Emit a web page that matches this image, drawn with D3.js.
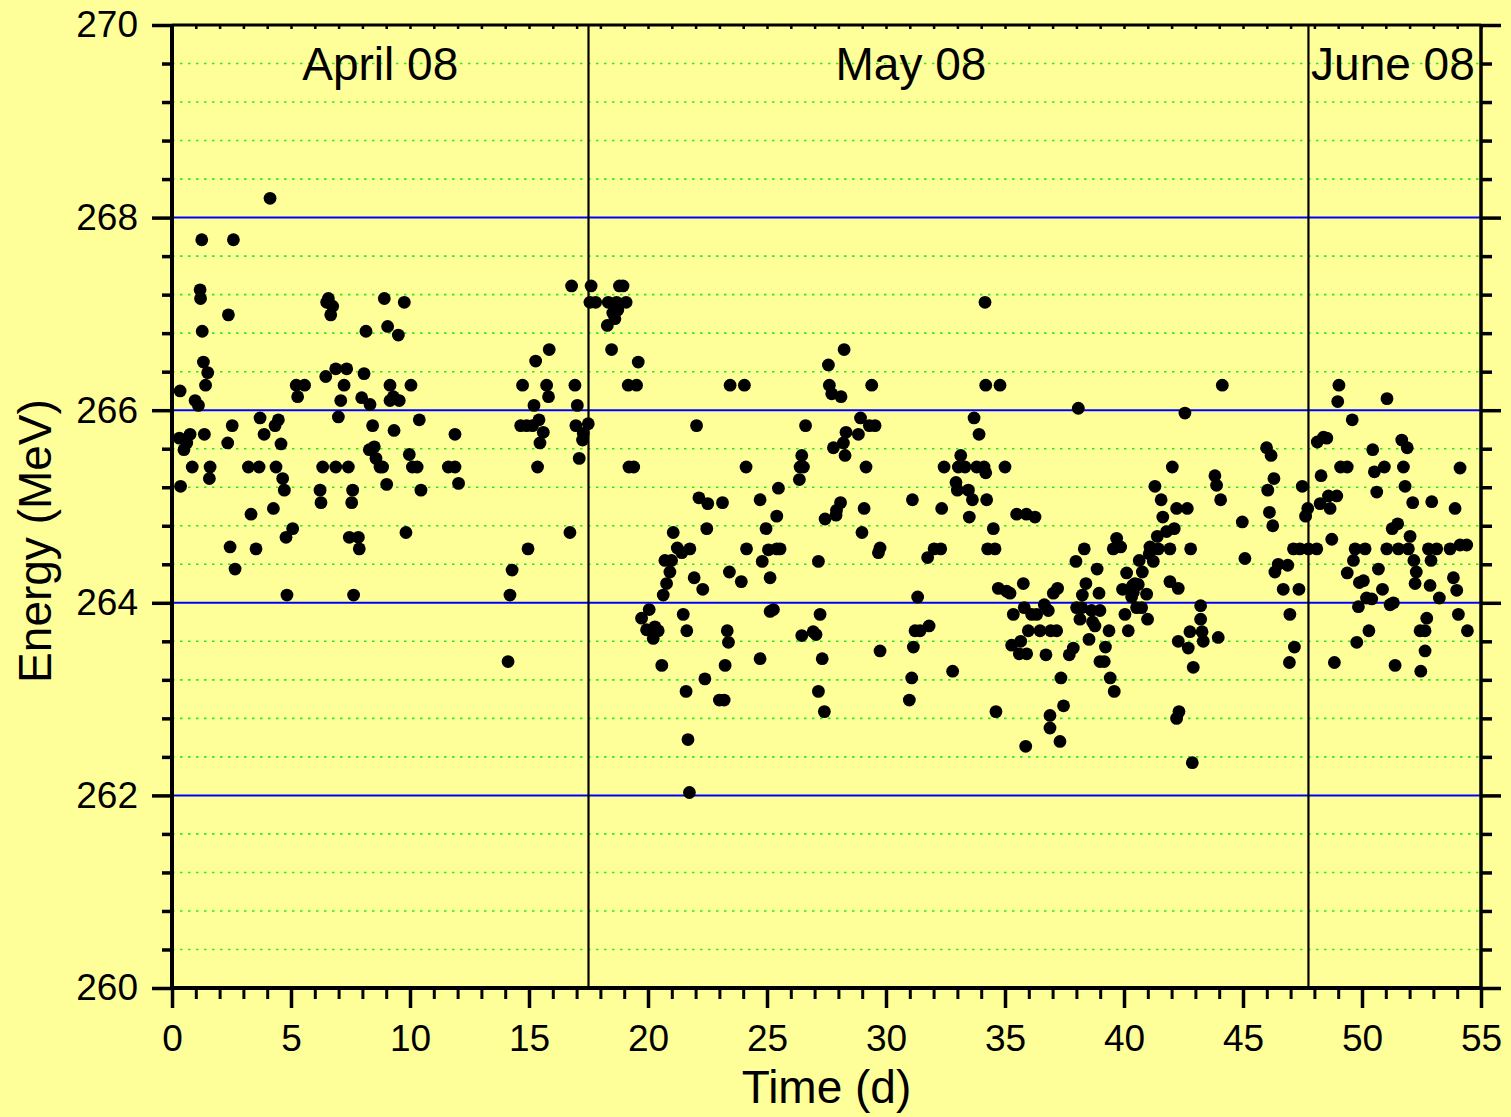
<!DOCTYPE html>
<html>
<head>
<meta charset="utf-8">
<script src="https://cdn.jsdelivr.net/npm/d3@7/dist/d3.min.js"></script>
<style>
  html, body { margin: 0; padding: 0; background: #ffff99; }
  svg { display: block; }
  text { font-family: "Liberation Sans", Arial, Helvetica, sans-serif; fill: #000; }
</style>
</head>
<body>
<svg id="chart" width="1511" height="1117"></svg>
<script>
// Beam energy measurements: [time (d), energy (MeV)], grouped by month
const aprilPoints = [
  [0.31,265.71],[0.34,266.20],[0.36,265.21],[0.50,265.59],[0.62,265.66],[0.76,265.75],
  [0.85,265.41],[0.97,266.10],[1.11,266.05],[1.18,267.25],[1.20,267.16],[1.25,267.77],
  [1.27,266.82],[1.32,266.50],[1.36,265.75],[1.41,266.26],[1.50,266.39],[1.57,265.29],
  [1.60,265.41],[2.34,265.66],[2.37,266.99],[2.44,264.58],[2.53,265.84],[2.58,267.77],
  [2.65,264.35],[3.21,265.41],[3.32,264.92],[3.53,264.56],[3.66,265.41],[3.70,265.92],
  [3.87,265.75],[4.12,268.20],[4.26,264.98],[4.33,265.84],[4.37,265.41],[4.47,265.90],
  [4.58,265.65],[4.65,265.29],[4.72,265.17],[4.79,264.68],[4.83,264.08],[5.07,264.77],
  [5.22,266.26],[5.28,266.14],[5.57,266.26],[6.22,265.17],[6.26,265.04],[6.33,265.41],
  [6.46,266.35],[6.50,267.12],[6.57,267.16],[6.67,266.99],[6.75,267.08],[6.88,265.41],
  [6.88,266.43],[6.99,265.93],[7.09,266.10],[7.23,266.26],[7.34,266.43],[7.41,265.41],
  [7.45,264.68],[7.55,265.04],[7.59,265.17],[7.63,264.08],[7.83,264.68],[7.87,264.56],
  [7.97,266.13],[8.07,266.38],[8.15,266.82],[8.29,265.59],[8.32,266.06],[8.43,265.84],
  [8.50,265.62],[8.57,265.50],[8.74,265.41],[8.85,265.41],[8.92,267.16],[9.02,265.23],
  [9.06,266.87],[9.16,266.26],[9.16,266.10],[9.30,266.14],[9.33,265.79],[9.51,266.78],
  [9.55,266.10],[9.76,267.12],[9.83,264.73],[9.97,265.54],[10.04,266.26],[10.10,265.41],
  [10.30,265.41],[10.39,265.90],[10.46,265.17],[11.61,265.41],[11.89,265.41],[11.89,265.75],
  [12.04,265.24],[14.12,263.39],[14.20,264.08],[14.29,264.34],[14.65,265.84],[14.73,266.26],
  [14.90,265.84],[14.96,264.56],[15.15,265.84],[15.21,266.05],[15.28,266.51],[15.36,265.41],
  [15.42,265.90],[15.46,265.66],[15.60,265.77],[15.74,266.26],[15.82,266.14],[15.85,266.63],
  [16.72,264.73],[16.79,267.29],[16.93,266.26],[16.97,265.84],[17.03,266.05],[17.11,265.50],
  [17.25,265.69],[17.28,265.76],[17.49,265.86]
];

const mayPoints = [
  [17.56,267.12],[17.61,267.29],[17.80,267.12],[18.29,266.88],[18.33,267.12],[18.47,266.63],
  [18.52,267.01],[18.61,266.95],[18.68,267.12],[18.73,267.04],[18.80,267.29],[18.95,267.29],
  [19.08,267.12],[19.20,265.41],[19.17,266.26],[19.40,265.41],[19.52,266.26],[19.59,266.50],
  [19.73,263.84],[19.94,263.72],[20.05,263.93],[20.22,263.63],[20.29,263.75],[20.43,263.71],
  [20.58,263.35],[20.64,264.08],[20.71,264.44],[20.78,264.20],[20.92,264.32],[20.99,264.44],
  [21.06,264.73],[21.23,264.57],[21.42,264.52],[21.48,263.88],[21.60,263.08],[21.63,263.71],
  [21.68,262.58],[21.74,262.03],[21.76,264.56],[21.94,264.26],[22.04,265.84],[22.14,265.09],
  [22.30,264.14],[22.39,263.21],[22.47,264.77],[22.51,265.03],[23.00,262.99],[23.13,265.04],
  [23.20,262.99],[23.33,263.71],[23.38,263.59],[23.24,263.35],[23.42,264.32],[23.45,266.26],
  [23.92,264.22],[24.05,266.26],[24.12,265.41],[24.14,264.56],[24.71,263.42],[24.71,265.07],
  [24.80,264.43],[24.96,264.77],[25.06,264.55],[25.13,264.26],[25.13,263.91],[25.27,263.93],
  [25.41,264.56],[25.41,264.90],[25.48,265.19],[25.55,264.56],[26.36,265.28],[26.39,265.41],
  [26.46,265.53],[26.46,263.66],[26.53,265.41],[26.62,265.84],[26.94,263.70],[27.06,263.67],
  [27.16,264.43],[27.16,263.08],[27.23,263.88],[27.32,263.42],[27.41,262.87],[27.44,264.87],
  [27.58,266.47],[27.62,266.26],[27.72,266.17],[27.79,265.61],[27.90,264.91],[27.92,264.96],
  [28.09,265.04],[28.11,266.14],[28.21,265.66],[28.24,266.63],[28.28,265.53],[28.32,265.77],
  [28.84,265.75],[28.93,265.92],[28.99,264.73],[29.08,264.98],[29.16,265.41],[29.30,265.84],
  [29.40,266.26],[29.54,265.84],[29.68,264.52],[29.75,264.57],[29.75,263.50],[30.98,262.99],
  [31.08,263.22],[31.11,265.07],[31.15,263.54],[31.22,263.71],[31.33,264.06],[31.43,263.71],
  [31.75,264.47],[31.81,263.76],[32.02,264.56],[32.30,264.56],[32.34,264.98],[32.44,265.41],
  [32.80,263.29],[32.94,265.25],[33.00,265.17],[33.04,265.41],[33.14,265.53],[33.32,265.41],
  [33.46,265.17],[33.50,264.89],[33.63,265.07],[33.70,265.92],[33.81,265.41],[33.91,265.75],
  [34.12,265.41],[34.16,267.12],[34.19,266.26],[34.19,265.35],[34.23,265.07],[34.27,264.56],
  [34.51,264.77],[34.58,264.56],[34.62,262.87],[34.72,264.15],[34.79,266.26],[35.00,265.41],
  [35.07,264.12],[35.21,264.10],[35.28,263.56],[35.35,263.88],[35.49,264.92],[35.60,263.47],
  [35.66,263.60],[35.77,264.20],[35.81,263.95],[35.87,262.51],[35.90,264.92],[35.91,263.47],
  [35.98,263.71],[36.12,263.88],[36.26,264.89],[36.33,263.88],[36.47,263.71],[36.65,263.98],
  [36.72,263.46],[36.82,263.92],[36.89,262.83],[36.89,262.70],[36.92,263.71],[37.03,264.10],
  [37.17,263.71],[37.21,264.15],[37.31,262.56],[37.35,263.22],[37.46,262.93],[37.70,263.46],
  [37.87,263.53],[37.98,264.43],[38.01,263.95],[38.08,266.02],[38.15,263.83],[38.22,263.95],
  [38.25,264.08],[38.33,264.56],[38.40,264.20],[38.53,263.62],[38.64,263.92],[38.68,263.80],
  [38.78,263.76],[38.87,264.35],[38.95,264.10],[38.99,263.92],[38.99,263.39],[39.17,263.39],
  [39.22,263.54],[39.37,263.71],[39.42,263.22],[39.55,264.56],[39.59,263.08],[39.69,264.67],
  [39.86,264.58],[39.94,264.14],[40.04,263.88],[40.11,264.31],[40.18,263.71],[40.32,264.06],
  [40.36,264.18],[40.39,264.11],[40.46,264.20],[40.53,263.95],[40.60,264.19],[40.64,264.44],
  [40.74,263.95],[40.77,264.32],[40.95,264.09],[40.99,263.83],[41.06,264.51],[41.09,264.58],
  [41.23,264.43],[41.30,265.21],[41.40,264.69],[41.44,264.56],[41.56,265.07],[41.63,264.89],
  [41.79,264.74],[41.93,264.56],[41.93,264.22],[42.03,265.41],[42.11,264.77],[42.21,264.98],
  [42.21,262.80],[42.28,264.15],[42.28,263.60],[42.31,262.87],[42.56,265.97],[42.66,264.98],
  [42.70,263.53],[42.77,263.70],[42.80,264.56],[42.87,262.34],[42.91,263.33],[43.22,263.97],
  [43.22,263.83],[43.28,263.70],[43.33,263.60],[43.82,265.32],[43.89,265.22],[43.96,263.64],
  [44.06,265.07],[44.13,266.26],[44.97,264.84],[45.08,264.46],[45.99,265.61],[46.04,265.17],
  [46.11,264.94],[46.18,265.53],[46.25,264.80],[46.30,265.29],[46.34,264.32],[46.48,264.40],
  [46.69,264.14],[46.88,264.39],[46.95,263.38],[46.97,263.88],[47.12,264.56],[47.16,263.54],
  [47.35,264.14],[47.39,264.56],[47.49,265.21],[47.63,264.90],[47.72,264.98]
];

const junePoints = [
  [47.75,264.56],[48.10,264.56],[48.12,265.67],[48.24,265.03],[48.28,265.32],[48.38,265.72],
  [48.52,265.71],[48.59,265.11],[48.66,264.98],[48.73,264.66],[48.84,263.38],[48.94,265.11],
  [48.98,266.09],[49.03,266.26],[49.10,265.41],[49.38,265.41],[49.38,264.31],[49.59,265.90],
  [49.64,264.44],[49.71,264.56],[49.78,263.59],[49.85,263.96],[49.89,264.21],[50.06,264.23],
  [50.13,264.56],[50.19,264.05],[50.29,263.71],[50.41,264.04],[50.45,265.59],[50.52,265.36],
  [50.62,265.15],[50.69,264.35],[50.86,264.14],[50.94,265.41],[51.04,264.56],[51.05,266.12],
  [51.18,263.98],[51.27,264.77],[51.32,264.00],[51.39,263.35],[51.50,264.82],[51.53,264.56],
  [51.67,265.69],[51.74,265.41],[51.81,265.21],[51.90,265.61],[51.95,264.56],[52.02,264.69],
  [52.13,265.04],[52.18,264.44],[52.23,264.20],[52.28,264.32],[52.44,263.71],[52.47,263.29],
  [52.65,263.71],[52.65,263.50],[52.72,263.84],[52.79,264.56],[52.86,264.18],[52.90,264.44],
  [52.93,265.05],[53.14,264.56],[53.25,264.05],[53.70,264.56],[53.84,264.26],[53.91,264.98],
  [53.98,264.13],[54.05,263.88],[54.12,265.40],[54.12,264.60],[54.40,264.60],[54.43,263.71]
];

// Month boundaries (d) and the month captions
const monthBoundaries = [17.5, 47.75];
const monthLabels = [
  { text: "April 08", t: 8.75 },
  { text: "May 08",   t: 31.05 },
  { text: "June 08",  t: 51.3 }
];

// Axis ticks
const xMajorTicks = [0, 5, 10, 15, 20, 25, 30, 35, 40, 45, 50, 55];
const xMinorTicks = d3.range(0, 56, 1).filter(v => v % 5 !== 0);
const yMajorTicks = [260, 262, 264, 266, 268, 270];
const yMinorTicks = d3.range(0, 26).map(i => +(260 + i * 0.4).toFixed(1))
  .filter(v => Math.abs(v / 2 - Math.round(v / 2)) > 1e-6);
const yGridMajor = [262, 264, 266, 268];

const svg = d3.select("#chart");
const plotLeft = 172, plotRight = 1481, plotTop = 25, plotBottom = 988;

const x = d3.scaleLinear().domain([0, 55]).range([plotLeft, plotRight]);
const y = d3.scaleLinear().domain([260, 270]).range([plotBottom, plotTop]);

svg.append("rect").attr("width", 1511).attr("height", 1117).attr("fill", "#ffff99");

// Dotted minor grid
svg.append("g").selectAll("line").data(yMinorTicks).join("line")
  .attr("x1", plotLeft).attr("x2", plotRight)
  .attr("y1", d => y(d)).attr("y2", d => y(d))
  .attr("stroke", "#22ee22").attr("stroke-width", 1.6)
  .attr("stroke-dasharray", "2.5,5.5");

// Major grid
svg.append("g").selectAll("line").data(yGridMajor).join("line")
  .attr("x1", plotLeft).attr("x2", plotRight)
  .attr("y1", d => y(d)).attr("y2", d => y(d))
  .attr("stroke", "#0000ff").attr("stroke-width", 2);

// Month separators
svg.append("g").selectAll("line").data(monthBoundaries).join("line")
  .attr("x1", d => x(d)).attr("x2", d => x(d))
  .attr("y1", plotTop).attr("y2", plotBottom)
  .attr("stroke", "#000").attr("stroke-width", 2.2);

// Data points
const allPoints = aprilPoints.concat(mayPoints, junePoints);
svg.append("g").selectAll("circle").data(allPoints).join("circle")
  .attr("cx", d => x(d[0])).attr("cy", d => y(d[1]))
  .attr("r", 6.4).attr("fill", "#000");

// Month captions
svg.append("g").selectAll("text").data(monthLabels).join("text")
  .attr("x", d => x(d.t)).attr("y", 80)
  .attr("text-anchor", "middle")
  .style("font-size", "46px")
  .text(d => d.text);

// Axes
function styleAxis(g, width) {
  g.select(".domain").remove();
  g.selectAll(".tick line").attr("stroke", "#000").attr("stroke-width", width);
  g.selectAll(".tick text").style("font-size", "37px")
    .style("font-family", '"Liberation Sans", Arial, sans-serif');
}

svg.append("g").attr("transform", `translate(0,${plotBottom})`)
  .call(d3.axisBottom(x).tickValues(xMinorTicks).tickSize(11).tickFormat(""))
  .call(g => styleAxis(g, 3));
svg.append("g").attr("transform", `translate(0,${plotBottom})`)
  .call(d3.axisBottom(x).tickValues(xMajorTicks).tickSize(20).tickPadding(17).tickFormat(d3.format("d")))
  .call(g => styleAxis(g, 3.5));

svg.append("g").attr("transform", `translate(0,${plotTop})`)
  .call(d3.axisBottom(x).tickValues(d3.range(0, 56, 1)).tickSize(4).tickFormat(""))
  .call(g => styleAxis(g, 2.5));

svg.append("g").attr("transform", `translate(${plotLeft},0)`)
  .call(d3.axisLeft(y).tickValues(yMinorTicks).tickSize(10).tickFormat(""))
  .call(g => styleAxis(g, 3.5));
svg.append("g").attr("transform", `translate(${plotLeft},0)`)
  .call(d3.axisLeft(y).tickValues(yMajorTicks).tickSize(20).tickPadding(14).tickFormat(d3.format("d")))
  .call(g => styleAxis(g, 3.5));

svg.append("g").attr("transform", `translate(${plotRight},0)`)
  .call(d3.axisRight(y).tickValues(yMinorTicks).tickSize(11).tickFormat(""))
  .call(g => styleAxis(g, 3.5));
svg.append("g").attr("transform", `translate(${plotRight},0)`)
  .call(d3.axisRight(y).tickValues(yMajorTicks).tickSize(20).tickFormat(""))
  .call(g => styleAxis(g, 3.5));

// Frame
const frame = svg.append("g").attr("stroke", "#000").attr("fill", "none");
frame.append("line").attr("x1", plotLeft).attr("x2", plotRight).attr("y1", plotTop).attr("y2", plotTop).attr("stroke-width", 3);
frame.append("line").attr("x1", plotLeft).attr("x2", plotRight).attr("y1", plotBottom).attr("y2", plotBottom).attr("stroke-width", 4);
frame.append("line").attr("x1", plotLeft).attr("x2", plotLeft).attr("y1", plotTop).attr("y2", plotBottom).attr("stroke-width", 4);
frame.append("line").attr("x1", plotRight).attr("x2", plotRight).attr("y1", plotTop).attr("y2", plotBottom).attr("stroke-width", 3.5);

// Axis titles
svg.append("text")
  .attr("x", (plotLeft + plotRight) / 2).attr("y", 1103)
  .attr("text-anchor", "middle")
  .style("font-size", "46px")
  .text("Time (d)");

svg.append("text")
  .attr("transform", "translate(51,541) rotate(-90)")
  .attr("text-anchor", "middle")
  .style("font-size", "46px")
  .text("Energy (MeV)");
</script>
</body>
</html>
